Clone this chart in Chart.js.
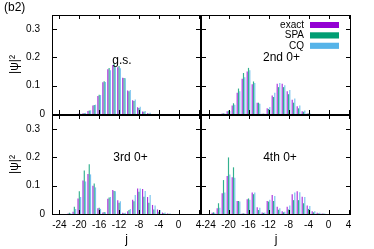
<!DOCTYPE html>
<html>
<head>
<meta charset="utf-8">
<script src="https://cdn.jsdelivr.net/npm/chart.js@4.4.1/dist/chart.umd.min.js"></script>
<style>
html, body { margin: 0; padding: 0; background: #fff; }
#wrap { position: relative; width: 374px; height: 249px; }
#wrap canvas { position: absolute; left: 0; top: 0; }
</style>
</head>
<body>
<div id="wrap">
  <canvas id="gs" width="374" height="249"></canvas>
  <canvas id="second" width="374" height="249"></canvas>
  <canvas id="third" width="374" height="249"></canvas>
  <canvas id="fourth" width="374" height="249"></canvas>
</div>
<script>
const seriesNames = ['exact', 'SPA', 'CQ'];
const seriesColors = ['#9400d3', '#009e73', '#56b4e9'];
const jTicks = [-24, -20, -16, -12, -8, -4, 0, 4];
const probTicks = [0, 0.1, 0.2, 0.3];

// g.s.
const jGS = [-20, -19, -18, -17, -16, -15, -14, -13, -12, -11, -10, -9, -8, -7, -6];
const exactGS = [0.001, 0.003, 0.011, 0.03, 0.064, 0.112, 0.158, 0.173, 0.165, 0.128, 0.083, 0.049, 0.024, 0.009, 0.003];
const spaGS = [0.001, 0.003, 0.012, 0.032, 0.068, 0.116, 0.163, 0.178, 0.17, 0.127, 0.08, 0.046, 0.021, 0.008, 0.002];
const cqGS = [0.001, 0.004, 0.013, 0.033, 0.067, 0.113, 0.155, 0.168, 0.162, 0.126, 0.085, 0.051, 0.026, 0.011, 0.004];

// 2nd 0+
const j2nd = [-21, -20, -19, -18, -17, -16, -15, -14, -13, -12, -11, -10, -9, -8, -7, -6, -5, -4];
const exact2nd = [0.002, 0.01, 0.03, 0.075, 0.125, 0.15, 0.105, 0.04, 0.001, 0.02, 0.065, 0.107, 0.107, 0.08, 0.05, 0.027, 0.01, 0.002];
const spa2nd = [0.002, 0.012, 0.038, 0.09, 0.145, 0.163, 0.115, 0.04, 0.001, 0.018, 0.06, 0.095, 0.095, 0.07, 0.04, 0.02, 0.008, 0.002];
const cq2nd = [0.002, 0.011, 0.033, 0.08, 0.13, 0.155, 0.11, 0.036, 0.001, 0.025, 0.075, 0.11, 0.102, 0.085, 0.055, 0.03, 0.012, 0.003];

// 3rd 0+
const j3rd = [-22, -21, -20, -19, -18, -17, -16, -15, -14, -13, -12, -11, -10, -9, -8, -7, -6, -5, -4, -3, -2];
const exact3rd = [0.002, 0.008, 0.055, 0.118, 0.141, 0.1, 0.02, 0.005, 0.054, 0.085, 0.049, 0.004, 0.01, 0.05, 0.09, 0.088, 0.06, 0.032, 0.016, 0.005, 0.002];
const spa3rd = [0.004, 0.026, 0.08, 0.154, 0.176, 0.108, 0.022, 0.007, 0.058, 0.081, 0.04, 0.003, 0.014, 0.045, 0.079, 0.061, 0.04, 0.016, 0.008, 0.003, 0.001];
const cq3rd = [0.003, 0.018, 0.06, 0.115, 0.14, 0.094, 0.018, 0.006, 0.06, 0.08, 0.045, 0.004, 0.018, 0.067, 0.09, 0.081, 0.067, 0.03, 0.014, 0.005, 0.002];

// 4th 0+
const j4th = [-23, -22, -21, -20, -19, -18, -17, -16, -15, -14, -13, -12, -11, -10, -9, -8, -7, -6, -5, -4, -3, -2, -1];
const exact4th = [0.004, 0.02, 0.073, 0.134, 0.13, 0.046, 0.002, 0.052, 0.076, 0.024, 0.005, 0.046, 0.067, 0.026, 0.01, 0.026, 0.07, 0.08, 0.061, 0.03, 0.01, 0.004, 0.002];
const spa4th = [0.006, 0.038, 0.12, 0.2, 0.165, 0.046, 0.002, 0.055, 0.07, 0.014, 0.004, 0.044, 0.046, 0.015, 0.006, 0.016, 0.049, 0.049, 0.038, 0.018, 0.006, 0.002, 0.001];
const cq4th = [0.004, 0.022, 0.076, 0.14, 0.128, 0.044, 0.002, 0.05, 0.076, 0.022, 0.005, 0.05, 0.064, 0.02, 0.008, 0.03, 0.076, 0.077, 0.06, 0.028, 0.01, 0.004, 0.002];

const W = 374, H = 249;
const fontFamily = '"Liberation Sans", Arial, Helvetica, sans-serif';
Chart.defaults.font.family = fontFamily;
Chart.defaults.font.size = 10;
Chart.defaults.color = '#000';

function hexA(hex, a) {
  const n = parseInt(hex.slice(1), 16);
  return `rgba(${n >> 16}, ${(n >> 8) & 255}, ${n & 255}, ${a})`;
}

// gnuplot style frame with inward ticks, panel label, legend
const panelPlugin = {
  id: 'panel',
  afterDatasetsDraw(chart, args, opts) {
    const {ctx, chartArea: a, scales: {x, y}} = chart;
    ctx.save();
    ctx.strokeStyle = '#000';
    ctx.lineWidth = 1;
    ctx.beginPath();
    jTicks.forEach(v => {
      const px = Math.round(x.getPixelForValue(v)) + 0.5;
      ctx.moveTo(px, a.top); ctx.lineTo(px, a.top + 4);
      ctx.moveTo(px, a.bottom); ctx.lineTo(px, a.bottom - 4);
    });
    probTicks.forEach(v => {
      const py = Math.round(y.getPixelForValue(v)) + 0.5;
      ctx.moveTo(a.left, py); ctx.lineTo(a.left + 5, py);
      ctx.moveTo(a.right, py); ctx.lineTo(a.right - 5, py);
    });
    ctx.stroke();
    ctx.strokeRect(a.left + 0.5, a.top + 0.5, a.right - a.left - 1, a.bottom - a.top);

    ctx.fillStyle = '#000';
    ctx.font = `12px ${fontFamily}`;
    ctx.textAlign = 'center';
    ctx.textBaseline = 'middle';
    ctx.fillText(opts.label, x.getPixelForValue(opts.labelAt[0]), y.getPixelForValue(opts.labelAt[1]));

    if (opts.tag) {
      ctx.textAlign = 'left';
      ctx.fillText(opts.tag, 4, 8);
    }

    if (opts.legend) {
      ctx.font = `10px ${fontFamily}`;
      ctx.textAlign = 'right';
      chart.data.datasets.forEach((ds, i) => {
        const cy = a.top + 10 + i * 10.4;
        ctx.fillStyle = '#000';
        ctx.fillText(ds.label, a.right - 47, cy);
        ctx.fillStyle = seriesColors[i];
        ctx.fillRect(a.right - 41, cy - 3, 29, 6);
        ctx.strokeStyle = hexA(seriesColors[i], 0.45);
        ctx.strokeRect(a.right - 40.5, cy - 2.5, 28, 5);
      });
    }
    ctx.restore();
  }
};

function makePanel(id, j, series, o) {
  const datasets = series.map((vals, i) => ({
    label: seriesNames[i],
    data: j.map((v, k) => ({x: v, y: vals[k]})),
    backgroundColor: hexA(seriesColors[i], 0.8),
    borderWidth: 0,
    categoryPercentage: 0.78,
    barPercentage: 0.9
  }));
  return new Chart(document.getElementById(id), {
    type: 'bar',
    data: {datasets},
    plugins: [panelPlugin],
    options: {
      responsive: false,
      animation: false,
      events: [],
      layout: {
        padding: {
          left: o.showY ? 0 : o.area.left,
          top: o.area.top,
          right: W - o.area.right,
          bottom: o.showX ? 0 : H - o.area.bottom
        }
      },
      scales: {
        x: {
          type: 'linear',
          min: -25.5,
          max: 4.5,
          offset: false,
          display: o.showX,
          grid: {display: false, drawTicks: false, offset: false},
          border: {display: false},
          afterBuildTicks: s => { s.ticks = jTicks.map(v => ({value: v})); },
          afterFit: s => { s.height = o.showX ? H - o.area.bottom : 0; },
          ticks: {padding: 5, maxRotation: 0, autoSkip: false, font: {size: 10}},
          title: {display: true, text: 'j', font: {size: 12}, padding: {top: 0, bottom: 2}}
        },
        y: {
          min: 0,
          max: 0.35,
          display: o.showY,
          grid: {display: false, drawTicks: false},
          border: {display: false},
          afterBuildTicks: s => { s.ticks = probTicks.map(v => ({value: v})); },
          afterFit: s => { s.width = o.showY ? o.area.left : 0; },
          ticks: {
            padding: 7,
            font: {size: 10},
            callback: v => v === 0 ? '0' : v.toFixed(1) + '\u2002'
          },
          title: {display: true, text: '|\u03c8|\u00b2', font: {size: 12}, padding: {top: 7, bottom: 0}}
        }
      },
      plugins: {
        legend: {display: false},
        tooltip: {enabled: false},
        panel: {label: o.label, labelAt: o.labelAt, legend: o.legend, tag: o.tag}
      }
    }
  });
}

makePanel('gs', jGS, [exactGS, spaGS, cqGS], {
  area: {left: 52, top: 15, right: 201, bottom: 114},
  showX: false, showY: true, label: 'g.s.', labelAt: [-11.4, 0.19], tag: '(b2)'
});
makePanel('second', j2nd, [exact2nd, spa2nd, cq2nd], {
  area: {left: 201, top: 15, right: 351, bottom: 114},
  showX: false, showY: false, label: '2nd 0+', labelAt: [-9.4, 0.198], legend: true
});
makePanel('third', j3rd, [exact3rd, spa3rd, cq3rd], {
  area: {left: 52, top: 115, right: 201, bottom: 214},
  showX: true, showY: true, label: '3rd 0+', labelAt: [-9.7, 0.199]
});
makePanel('fourth', j4th, [exact4th, spa4th, cq4th], {
  area: {left: 201, top: 115, right: 351, bottom: 214},
  showX: true, showY: false, label: '4th 0+', labelAt: [-9.7, 0.199]
});
</script>
</body>
</html>
